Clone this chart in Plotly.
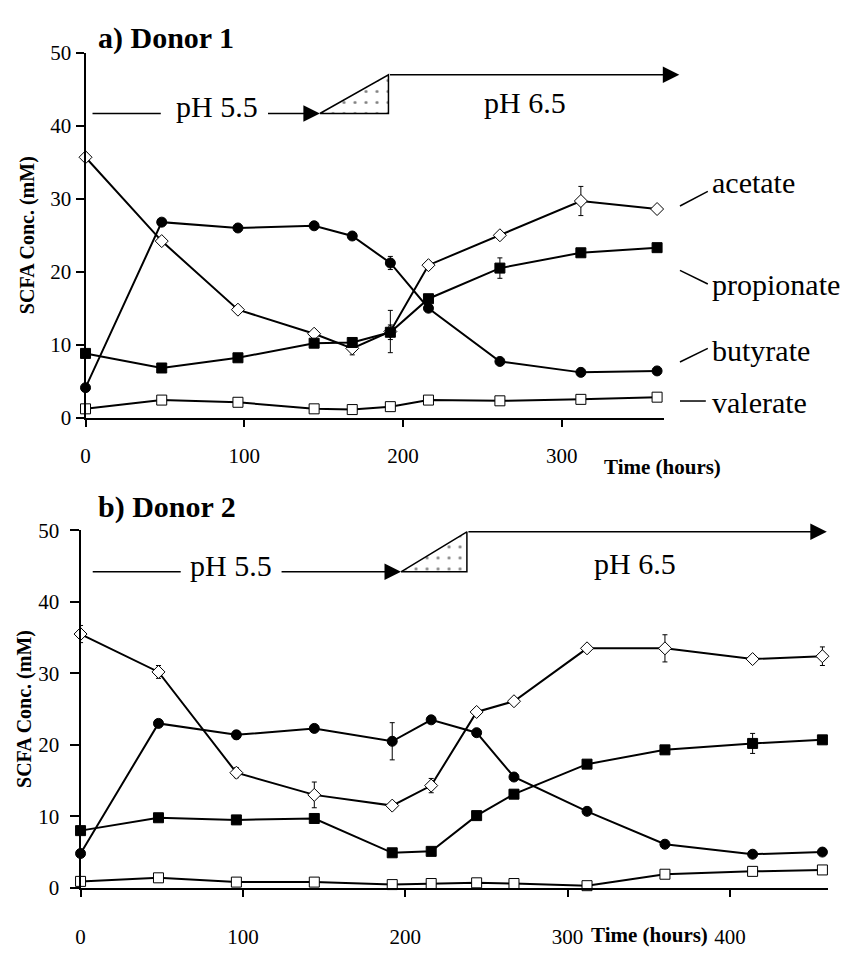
import plotly.graph_objects as go

# ---------------- data ----------------
# Donor 1
t1 = [0, 48, 96, 144, 168, 192, 216, 261, 312, 360]
acetate1 = [35.7, 24.2, 14.8, 11.5, 9.5, 11.8, 20.9, 25.0, 29.7, 28.6]
acetate1_err = [0.6, 0, 0, 0, 0.9, 2.9, 0, 0, 2.0, 0]
butyrate1 = [4.1, 26.8, 26.0, 26.3, 24.9, 21.2, 15.0, 7.7, 6.2, 6.4]
butyrate1_err = [0, 0, 0, 0, 0, 0.9, 0, 0, 0, 0]
propionate1 = [8.8, 6.8, 8.2, 10.2, 10.3, 11.7, 16.3, 20.5, 22.6, 23.3]
propionate1_err = [0, 0, 0, 0, 0, 1.0, 0, 1.4, 0.5, 0]
valerate1 = [1.2, 2.4, 2.1, 1.2, 1.1, 1.5, 2.4, 2.3, 2.5, 2.8]

# Donor 2
t2 = [0, 48, 96, 144, 192, 216, 244, 267, 312, 360, 414, 457]
acetate2 = [35.5, 30.2, 16.1, 13.0, 11.5, 14.3, 24.6, 26.1, 33.5, 33.5, 32.0, 32.4]
acetate2_err = [1.2, 0.9, 0.7, 1.8, 0, 1.0, 0, 0, 0, 1.9, 0, 1.3]
butyrate2 = [4.8, 23.0, 21.4, 22.3, 20.5, 23.5, 21.7, 15.5, 10.7, 6.1, 4.7, 5.0]
butyrate2_err = [0, 0, 0.6, 0, 2.6, 0, 0, 0, 0, 0, 0, 0]
propionate2 = [8.0, 9.8, 9.5, 9.7, 4.9, 5.1, 10.1, 13.1, 17.3, 19.3, 20.2, 20.7]
propionate2_err = [0, 0, 0, 0, 0, 0, 0, 0, 0, 0, 1.4, 0]
valerate2 = [0.9, 1.4, 0.8, 0.8, 0.45, 0.6, 0.7, 0.6, 0.3, 1.9, 2.3, 2.5]

x_ticks = [0, 100, 200, 300, 400]
y_ticks = [0, 10, 20, 30, 40, 50]
species_labels = ["acetate", "propionate", "butyrate", "valerate"]

# pH phase markers (time in hours, level in mM units of the panel)
# donor 1
ph1_low_y, ph1_high_y = 41.7, 47.0
ph1_seg1 = (4.4, 47.4)
ph1_seg2 = (114.0, 147.6)
ph1_ramp_end = 190.8
ph1_arrow_end = 374.0
ph1_text55 = (83.0, 42.6)
ph1_text65 = (276.5, 43.2)
# donor 2
ph2_low_y, ph2_high_y = 44.2, 49.8
ph2_seg1 = (7.5, 61.7)
ph2_seg2 = (122.9, 197.4)
ph2_ramp_end = 238.0
ph2_arrow_end = 459.7
ph2_text55 = (92.8, 45.1)
ph2_text65 = (341.4, 45.3)

# ---------------- figure ----------------
W, H = 843, 959
SERIF = "Liberation Serif, Times New Roman, serif"


def px(xp):
    return xp / W


def py(yp):
    return 1 - yp / H


fig = go.Figure()


def add_series(x, y, err, symbol, fill, xa, ya, size=10):
    e = None
    if err is not None:
        e = dict(type="data", array=err, visible=True, color="black",
                 thickness=1, width=2.5)
    fig.add_trace(go.Scatter(
        x=x, y=y, mode="lines+markers", xaxis=xa, yaxis=ya,
        line=dict(color="black", width=2),
        marker=dict(symbol=symbol, size=size, color=fill,
                    line=dict(color="black", width=1)),
        error_y=e, cliponaxis=False, showlegend=False, hoverinfo="skip"))


for (t, ac, ace, bu, bue, pr, pre, va, xa, ya) in [
    (t1, acetate1, acetate1_err, butyrate1, butyrate1_err, propionate1,
     propionate1_err, valerate1, "x", "y"),
    (t2, acetate2, acetate2_err, butyrate2, butyrate2_err, propionate2,
     propionate2_err, valerate2, "x2", "y2"),
]:
    add_series(t, va, None, "square", "white", xa, ya, 10)
    add_series(t, bu, bue, "circle", "black", xa, ya, 10)
    add_series(t, ac, ace, "diamond", "white", xa, ya, 10)
    add_series(t, pr, pre, "square", "black", xa, ya, 10)

shapes = []
annotations = []


def ph_markers(xa, ya, low, high, seg1, seg2, ramp_end, arrow_end, t55, t65):
    # plain segment before "pH 5.5"
    shapes.append(dict(type="line", xref=xa, yref=ya, x0=seg1[0], x1=seg1[1],
                       y0=low, y1=low, line=dict(color="black", width=1.5)))
    # arrow after "pH 5.5"
    annotations.append(dict(x=seg2[1], y=low, ax=seg2[0], ay=low, xref=xa, yref=ya,
                            axref=xa, ayref=ya, text="", showarrow=True,
                            arrowhead=2, arrowsize=2.2, arrowwidth=1.5,
                            arrowcolor="black", standoff=0, startstandoff=0))
    # dotted ramp triangle
    fig.add_trace(go.Scatter(
        x=[seg2[1], ramp_end, ramp_end, seg2[1]], y=[low, high, low, low],
        xaxis=xa, yaxis=ya, mode="lines", fill="toself", fillcolor="white",
        fillpattern=dict(shape=".", fgcolor="black", bgcolor="white",
                         size=11, solidity=0.06),
        line=dict(color="black", width=1.5), showlegend=False,
        hoverinfo="skip"))
    # long pH 6.5 arrow
    annotations.append(dict(x=arrow_end, y=high, ax=ramp_end, ay=high, xref=xa,
                            yref=ya, axref=xa, ayref=ya, text="", showarrow=True,
                            arrowhead=2, arrowsize=2.2, arrowwidth=1.5,
                            arrowcolor="black", standoff=0, startstandoff=0))
    annotations.append(dict(x=t55[0], y=t55[1], xref=xa, yref=ya, text="pH 5.5",
                            showarrow=False, font=dict(family=SERIF, size=30,
                                                       color="black")))
    annotations.append(dict(x=t65[0], y=t65[1], xref=xa, yref=ya, text="pH 6.5",
                            showarrow=False, font=dict(family=SERIF, size=30,
                                                       color="black")))


ph_markers("x", "y", ph1_low_y, ph1_high_y, ph1_seg1, ph1_seg2, ph1_ramp_end,
           ph1_arrow_end, ph1_text55, ph1_text65)
ph_markers("x2", "y2", ph2_low_y, ph2_high_y, ph2_seg1, ph2_seg2, ph2_ramp_end,
           ph2_arrow_end, ph2_text55, ph2_text65)

# species labels with leader lines (donor 1, right margin)
label_pos = [175, 280, 347, 401]
leaders = [((679, 199), (707, 184)), ((679, 265), (707, 279)),
           ((679, 359), (707, 345)), ((679, 399), (705, 399))]
for name, yy, ((x0, y0), (x1, y1)) in zip(species_labels, label_pos, leaders):
    annotations.append(dict(x=px(709), y=py(yy), xref="paper", yref="paper",
                            text=name, showarrow=False, xanchor="left",
                            yanchor="middle",
                            font=dict(family=SERIF, size=30, color="black")))
    shapes.append(dict(type="line", xref="paper", yref="paper", x0=px(x0),
                       y0=py(y0), x1=px(x1), y1=py(y1),
                       line=dict(color="black", width=1.5)))

# panel titles
for txt, yy in [("a) Donor 1", 27), ("b) Donor 2", 508)]:
    annotations.append(dict(x=px(92), y=py(yy), xref="paper", yref="paper",
                            text="<b>" + txt + "</b>", showarrow=False,
                            xanchor="left", yanchor="middle",
                            font=dict(family=SERIF, size=30, color="black")))

# axis titles
for xx, yy in [(661, 467), (648, 947)]:
    annotations.append(dict(x=px(xx), y=py(yy), xref="paper", yref="paper",
                            text="<b>Time (hours)</b>", showarrow=False,
                            xanchor="center", yanchor="middle",
                            font=dict(family=SERIF, size=21, color="black")))
for xx, yy in [(22, 229), (19, 715)]:
    annotations.append(dict(x=px(xx), y=py(yy), xref="paper", yref="paper",
                            text="<b>SCFA Conc. (mM)</b>", showarrow=False,
                            textangle=-90, xanchor="center", yanchor="middle",
                            font=dict(family=SERIF, size=20, color="black")))

axis_common = dict(showline=True, linecolor="black", linewidth=2,
                   ticks="outside", tickcolor="black", tickwidth=1.5,
                   showgrid=False, zeroline=False,
                   tickfont=dict(family=SERIF, size=21, color="black"))

fig.update_layout(
    width=W, height=H, margin=dict(l=0, r=0, t=0, b=0),
    paper_bgcolor="white", plot_bgcolor="white", showlegend=False,
    xaxis=dict(domain=[px(81), px(663)], range=[0, 364.4], anchor="y",
               tickvals=x_ticks[:4], ticklen=7, ticklabelstandoff=11,
               **axis_common),
    yaxis=dict(domain=[py(416), py(42)], range=[0, 50], anchor="x",
               tickvals=y_ticks, ticklen=8, **axis_common),
    xaxis2=dict(domain=[px(76), px(828)], range=[0, 460.5], anchor="y2",
                tickvals=x_ticks, ticklen=7, ticklabelstandoff=22,
                **axis_common),
    yaxis2=dict(domain=[py(898.3), py(531.7)], range=[0, 50], anchor="x2",
                tickvals=y_ticks, ticklen=9, ticklabelstandoff=6,
                **axis_common),
    shapes=shapes, annotations=annotations,
)

fig.write_html("out.html")
